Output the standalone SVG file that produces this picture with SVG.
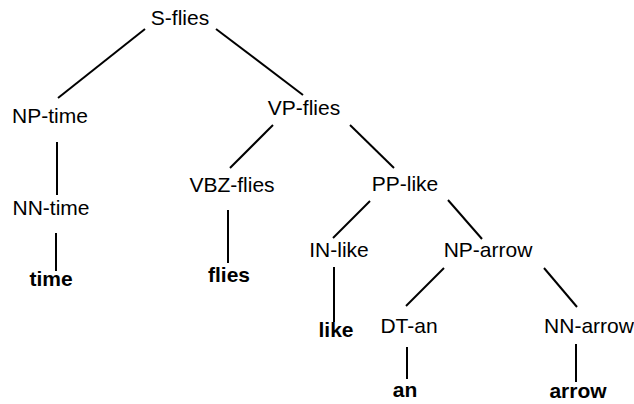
<svg xmlns="http://www.w3.org/2000/svg" width="634" height="404" viewBox="0 0 634 404">
<style>
text{font-family:"Liberation Sans",Arial,sans-serif;font-size:21px;fill:#000;text-anchor:middle}
.w{font-weight:bold}
.e line{stroke:#000;stroke-width:2}
</style>
<rect width="634" height="404" fill="#fff"/>
<g id="connectors" class="e">
<line x1="145" y1="29" x2="58" y2="98"/>
<line x1="216" y1="29" x2="303" y2="95"/>
<line x1="57" y1="142" x2="57" y2="195"/>
<line x1="56" y1="233" x2="56" y2="271"/>
<line x1="273" y1="125" x2="230" y2="168"/>
<line x1="228" y1="210" x2="228" y2="263"/>
<line x1="350" y1="125" x2="394" y2="168"/>
<line x1="370" y1="201" x2="333" y2="238"/>
<line x1="448" y1="200" x2="482" y2="239"/>
<line x1="334" y1="267" x2="334" y2="322"/>
<line x1="444" y1="268" x2="406" y2="306"/>
<line x1="544" y1="268" x2="577" y2="307"/>
<line x1="407" y1="347" x2="407" y2="379"/>
<line x1="576" y1="344" x2="576" y2="382"/>
</g>
<g id="S-flies"><text x="180" y="25">S-flies</text></g>
<g id="NP-time"><text x="50" y="123">NP-time</text></g>
<g id="VP-flies"><text x="304" y="115">VP-flies</text></g>
<g id="NN-time"><text x="51" y="215">NN-time</text></g>
<g id="time"><text class="w" x="51" y="286">time</text></g>
<g id="VBZ-flies"><text x="232" y="192">VBZ-flies</text></g>
<g id="flies"><text class="w" x="229" y="282">flies</text></g>
<g id="PP-like"><text x="405" y="191">PP-like</text></g>
<g id="IN-like"><text x="339" y="257">IN-like</text></g>
<g id="NP-arrow"><text x="488" y="257">NP-arrow</text></g>
<g id="like"><text class="w" x="336" y="337">like</text></g>
<g id="DT-an"><text x="409" y="333">DT-an</text></g>
<g id="NN-arrow"><text x="589" y="333">NN-arrow</text></g>
<g id="an"><text class="w" x="405" y="397">an</text></g>
<g id="arrow"><text class="w" x="578" y="398">arrow</text></g>
</svg>
